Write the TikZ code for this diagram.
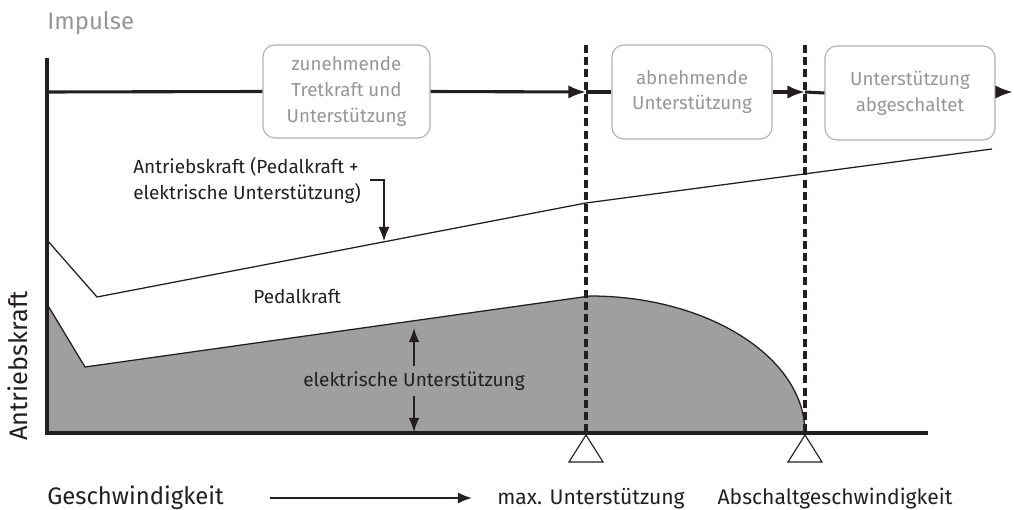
\documentclass[tikz,border=0pt]{standalone}
\usepackage{fontspec}
\setmainfont{Fira Sans}
\usetikzlibrary{arrows.meta}
\definecolor{ebgray}{RGB}{158,159,158}
\definecolor{ebtxt}{RGB}{150,150,150}
\definecolor{ebline}{RGB}{175,175,175}
\definecolor{ebink}{RGB}{35,31,32}
\tikzset{
  ebaxis/.style={draw=ebink, line width=2.2pt},
  ebthin/.style={draw=ebink, line width=0.9pt},
  ebdash/.style={draw=ebink, line width=2.2pt, dash pattern=on 5.7pt off 3pt},
  ebphase/.style={draw=ebline, line width=0.8pt, rounded corners=8.5pt, text=ebtxt, align=center,
    font=\fontsize{13.3}{18.4}\selectfont, inner sep=0pt},
  ebtip/.style={-{Latex[length=12.5pt, width=9.5pt]}},
  eblbl/.style={text=ebink, inner sep=0pt, font=\fontsize{13.5}{18.4}\selectfont},
  ebbig/.style={text=ebink, inner sep=0pt, font=\fontsize{17}{20}\selectfont},
  ebmark/.style={draw=ebink, line width=0.8pt, fill=white}
}

\begin{document}
\begin{tikzpicture}[x=0.025cm, y=-0.025cm]
    \useasboundingbox (0,0) rectangle (1014,510);
    % key points
    \coordinate (ytop) at (47,58);
    \coordinate (orig) at (47,433);
    \coordinate (xend) at (928,433);
    \coordinate (imp0) at (47,92);
    \coordinate (imp1) at (586,92);
    \coordinate (imp2) at (805,92);
    \coordinate (imp3) at (1013,92);
    % electric support area
    \fill[ebgray] (47,304) -- (85,367) -- (590,296) .. controls (707,296) and (805,357) .. (805,433) -- (orig) -- cycle;
    \draw[ebthin] (47,304) -- (85,367) -- (590,296) .. controls (707,296) and (805,357) .. (805,433);
    % total drive force
    \draw[ebthin] (47,240) -- (97,297) -- (586,203) -- (992,149);
    % axes
    \draw[ebaxis] (ytop) -- (orig) -- (xend);
    % dashed markers
    \draw[ebdash] (586,45) -- (586,433);
    \draw[ebdash] (805,45) -- (805,433);
    \draw[ebmark] (586,435) -- (569,462) -- (603,462) -- cycle;
    \draw[ebmark] (805,435) -- (788,462) -- (822,462) -- cycle;
    % impulse phases
    \node[ebphase, minimum width=4.175cm, minimum height=2.325cm] (zun) at (346.5,91.5) {zunehmende\\Tretkraft und\\Unterstützung};
    \node[ebphase, minimum width=4cm, minimum height=2.35cm] (abn) at (692,92) {abnehmende\\Unterstützung};
    \node[ebphase, minimum width=4.25cm, minimum height=2.35cm] (aus) at (910,93) {Unterstützung\\abgeschaltet};
    \draw[ebaxis] (imp0) -- (zun.west);
    \draw[ebaxis, ebtip] (zun.east) -- (imp1);
    \draw[ebaxis] (imp1) -- (abn.west);
    \draw[ebaxis, ebtip] (abn.east) -- (imp2);
    \draw[ebaxis] (imp2) -- (aus.west);
    \draw[ebaxis, ebtip] (aus.east |- imp3) -- (imp3);
    \node[ebbig, text=ebtxt, anchor=base west] (imp) at (47,30) {Impulse};
    % labels
    \node[eblbl, anchor=north west, align=left] (ak) at (133,157) {Antriebskraft (Pedalkraft +\\elektrische Unterstützung)};
    \coordinate (akc) at (384,180);
    \coordinate (akt) at (384,241);
    \draw[ebthin, -{Latex[length=10pt, width=8pt]}] (370,180) -- (akc) -- (akt);
    \node[eblbl, anchor=base west] (ped) at (253,304) {Pedalkraft};
    \node[eblbl, inner ysep=4pt] (eu) at (414,381) {elektrische Unterstützung};
    \coordinate (eut) at (414,328);
    \coordinate (eub) at (414,432);
    \draw[ebthin, -{Latex[length=10pt, width=7.5pt]}] (eu.north) -- (eut);
    \draw[ebthin, -{Latex[length=10pt, width=7.5pt]}] (eu.south) -- (eub);
    \node[ebbig, font=\fontsize{18}{20}\selectfont, rotate=90] (ay) at (18,366) {Antriebskraft};
    \node[ebbig, anchor=base west] (gs) at (47,505) {Geschwindigkeit};
    \coordinate (gs0) at (270,498);
    \coordinate (gs1) at (472,498);
    \draw[ebthin, line width=1.4pt, -{Latex[length=10pt, width=8pt]}] (gs0) -- (gs1);
    \node[eblbl, font=\fontsize{15}{18}\selectfont, anchor=base] (mx) at (591,505) {max. Unterstützung};
    \node[eblbl, font=\fontsize{15}{18}\selectfont, anchor=base] (ab) at (835,505) {Abschaltgeschwindigkeit};
\end{tikzpicture}
\end{document}
